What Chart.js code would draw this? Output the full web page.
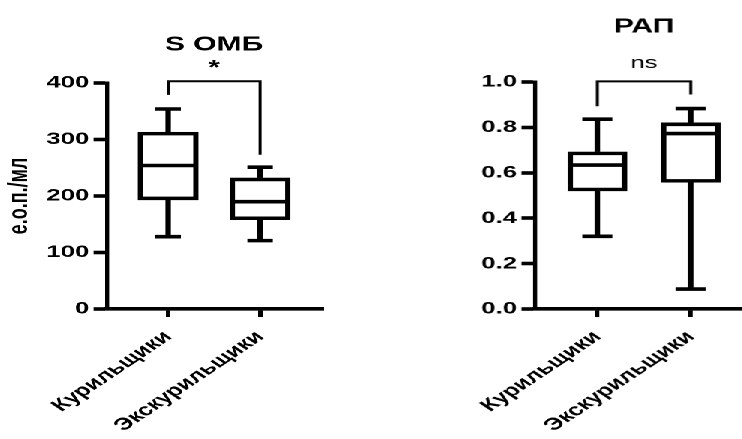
<!DOCTYPE html>
<html>
<head>
<meta charset="utf-8">
<script src="https://cdn.jsdelivr.net/npm/chart.js@4.4.1/dist/chart.umd.min.js"></script>
<style>
  html, body { margin: 0; padding: 0; background: #fff; overflow: hidden; }
  #stage { position: absolute; left: 0; top: 0; width: 494.67px; height: 439px;
           transform: scaleX(1.5); transform-origin: 0 0; }
  .box { position: absolute; top: 0; height: 439px; }
  #leftBox { left: 0; width: 220px; }
  #rightBox { left: 247.33px; width: 247.34px; }
</style>
</head>
<body>
<div id="stage">
  <div class="box" id="leftBox"><canvas id="c1"></canvas></div>
  <div class="box" id="rightBox"><canvas id="c2"></canvas></div>
</div>
<script>
// ---- data ----
const categories = ['Курильщики', 'Экскурильщики'];

const ombTitle = 'S ОМБ';
const ombAxisTitle = 'е.о.п./мл';
const ombMin    = [128, 121];
const ombQ1     = [193, 158];
const ombMedian = [254, 190];
const ombQ3     = [313, 232];
const ombMax    = [354, 251];
const ombTicks  = [0, 100, 200, 300, 400];
const ombSig    = '*';
const ombBracket = [379, 403, 273]; // left leg end, top, right leg end

const rapTitle = 'РАП';
const rapMin    = [0.32, 0.088];
const rapQ1     = [0.52, 0.558];
const rapMedian = [0.634, 0.773];
const rapQ3     = [0.692, 0.82];
const rapMax    = [0.836, 0.883];
const rapTicks  = [0.0, 0.2, 0.4, 0.6, 0.8, 1.0];
const rapSig    = 'ns';
const rapBracket = [0.893, 1.003, 0.945];

const FONT = "'Liberation Sans', Arial, sans-serif";
const LW = 3.6;

function boxPlugin(cfg) {
  return {
    id: 'boxWhisker',
    afterDatasetsDraw(chart) {
      const ctx = chart.ctx;
      const xs = chart.scales.x, ys = chart.scales.y;
      const meta = chart.getDatasetMeta(0);
      ctx.save();
      ctx.strokeStyle = '#000';
      ctx.lineCap = 'butt';
      ctx.lineWidth = LW;
      cfg.min.forEach((_, i) => {
        const cx = xs.getPixelForValue(i);
        const bw = meta.data[i].width;
        const yMed = ys.getPixelForValue(cfg.med[i]);
        ctx.beginPath();
        ctx.moveTo(cx - bw / 2, yMed); ctx.lineTo(cx + bw / 2, yMed);
        const yQ3 = ys.getPixelForValue(cfg.q3[i]);
        const yMax = ys.getPixelForValue(cfg.max[i]);
        ctx.moveTo(cx, yQ3); ctx.lineTo(cx, yMax);
        ctx.moveTo(cx - cfg.capWidth / 2, yMax); ctx.lineTo(cx + cfg.capWidth / 2, yMax);
        const yQ1 = ys.getPixelForValue(cfg.q1[i]);
        const yMin = ys.getPixelForValue(cfg.min[i]);
        ctx.moveTo(cx, yQ1); ctx.lineTo(cx, yMin);
        ctx.moveTo(cx - cfg.capWidth / 2, yMin); ctx.lineTo(cx + cfg.capWidth / 2, yMin);
        ctx.stroke();
      });
      const x0 = xs.getPixelForValue(0), x1 = xs.getPixelForValue(1);
      const yTop = ys.getPixelForValue(cfg.bracket[1]);
      ctx.lineWidth = 2;
      ctx.beginPath();
      ctx.moveTo(x0, ys.getPixelForValue(cfg.bracket[0]));
      ctx.lineTo(x0, yTop);
      ctx.lineTo(x1, yTop);
      ctx.lineTo(x1, ys.getPixelForValue(cfg.bracket[2]));
      ctx.stroke();
      ctx.fillStyle = '#000';
      ctx.textAlign = 'center';
      ctx.textBaseline = 'middle';
      ctx.font = cfg.sigFont;
      ctx.fillText(cfg.sig, (x0 + x1) / 2, yTop - cfg.sigOffset);
      ctx.font = 'bold 20px ' + FONT;
      ctx.fillText(cfg.title, (x0 + x1) / 2, cfg.titleY);
      ctx.restore();
    }
  };
}

function makeChart(canvasId, cfg) {
  const boxData = categories.map((c, i) => ({ x: i, y: [cfg.q1[i], cfg.q3[i]] }));
  return new Chart(document.getElementById(canvasId), {
    type: 'bar',
    data: {
      labels: categories,
      datasets: [{
        data: boxData,
        backgroundColor: '#fff',
        borderColor: '#000',
        borderWidth: LW,
        borderSkipped: false,
        barThickness: cfg.boxWidth
      }]
    },
    options: {
      responsive: true,
      maintainAspectRatio: false,
      animation: false,
      devicePixelRatio: 2,
      layout: { padding: { left: 0, right: cfg.padRight, top: cfg.areaTop, bottom: 0 } },
      plugins: {
        legend: { display: false },
        tooltip: { enabled: false },
        title: { display: false }
      },
      scales: {
        x: {
          type: 'linear',
          offset: false,
          min: cfg.xMin, max: cfg.xMax,
          afterBuildTicks: (s) => { s.ticks = categories.map((c, i) => ({ value: i })); },
          afterFit: (s) => { s.height = 130; },
          ticks: {
            autoSkip: false, minRotation: 45, maxRotation: 45, padding: 10,
            color: '#000',
            font: { family: FONT, size: 17, weight: 'bold' },
            callback: (v) => categories[v]
          },
          grid: { display: true, offset: false, drawOnChartArea: false, drawTicks: true,
                  tickLength: 8, tickWidth: 3, tickColor: '#000' },
          border: { display: true, color: '#000', width: LW }
        },
        y: {
          min: cfg.yTicks[0], max: cfg.yTicks[cfg.yTicks.length - 1],
          afterBuildTicks: (s) => { s.ticks = cfg.yTicks.map(v => ({ value: v })); },
          afterFit: (s) => { s.width = cfg.yWidth; },
          ticks: {
            padding: 3, color: '#000',
            font: { family: FONT, size: 17, weight: 'bold' },
            callback: cfg.yFmt
          },
          title: cfg.yTitle ? {
            display: true, text: cfg.yTitle, color: '#000',
            font: { family: FONT, size: 18, weight: 'bold', lineHeight: 1.2 },
            padding: { top: 2, bottom: 0 }
          } : { display: false },
          grid: { display: true, drawOnChartArea: false, drawTicks: true,
                  tickLength: 9, tickWidth: 3.6, tickColor: '#000' },
          border: { display: true, color: '#000', width: 2.7 }
        }
      }
    },
    plugins: [boxPlugin(cfg)]
  });
}

makeChart('c1', {
  title: ombTitle, yTitle: ombAxisTitle, titleY: 45, areaTop: 83,
  min: ombMin, q1: ombQ1, med: ombMedian, q3: ombQ3, max: ombMax,
  yTicks: ombTicks, yFmt: (v) => String(v),
  bracket: ombBracket, sig: ombSig, sigFont: 'bold 20px ' + FONT, sigOffset: 13,
  xMin: -0.664, xMax: 1.685, padRight: 4.7, yWidth: 71.3,
  boxWidth: 40, capWidth: 17
});

makeChart('c2', {
  title: rapTitle, yTitle: null, titleY: 27, areaTop: 82,
  min: rapMin, q1: rapQ1, med: rapMedian, q3: rapQ3, max: rapMax,
  yTicks: rapTicks, yFmt: (v) => Number(v).toFixed(1),
  bracket: rapBracket, sig: rapSig, sigFont: '17px ' + FONT, sigOffset: 18,
  xMin: -0.668, xMax: 1.558, padRight: 0, yWidth: 109.3,
  boxWidth: 39, capWidth: 20
});
</script>
</body>
</html>
